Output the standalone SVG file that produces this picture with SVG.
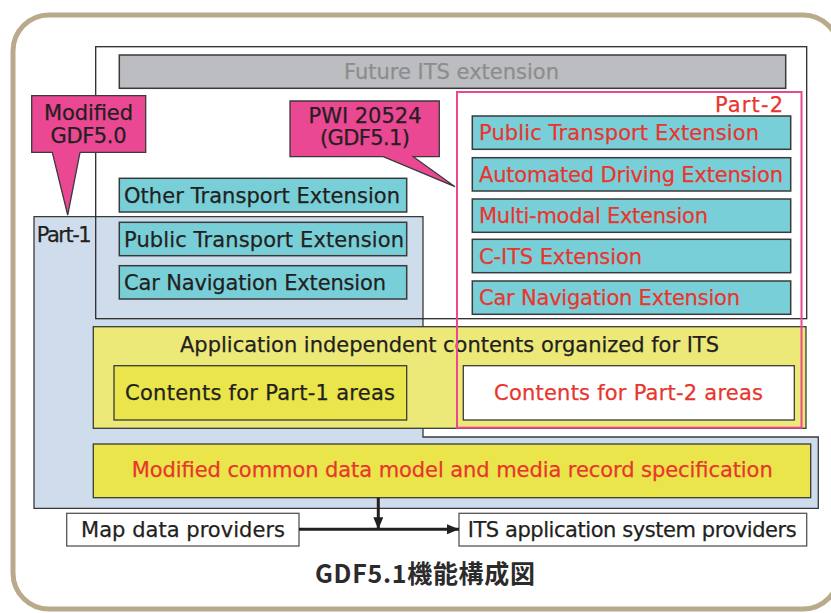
<svg xmlns="http://www.w3.org/2000/svg" width="831" height="613" viewBox="0 0 831 613">
  <defs>
    <marker id="arrowHead" markerUnits="userSpaceOnUse" markerWidth="12" markerHeight="10" refX="12" refY="5" orient="auto">
      <path d="M0,0 L12,5 L0,10 Z" fill="#231f20"/>
    </marker>
  </defs>
  <style>
    text { font-family: "DejaVu Sans", "Liberation Sans", sans-serif; font-size: 21px; fill: #231f20; stroke: #231f20; stroke-width: 0.25; }
    .red { fill: #e8352e; stroke: #e8352e; }
    .grey { fill: #8c8d8f; stroke: #8c8d8f; }
    .mid { text-anchor: middle; }
    .teal { fill: #79cfd8; stroke: #3a3a3a; stroke-width: 1.5; }
    .yellowLight { fill: #ede978; stroke: #3a3a3a; stroke-width: 1.3; }
    .yellow { fill: #e9e54a; stroke: #3a3a3a; stroke-width: 1.3; }
    .callout { fill: #ea4893; stroke: #3a3a3a; stroke-width: 1.3; }
    .plain { fill: #ffffff; stroke: #555555; stroke-width: 1.3; }
    .title { font-family: "Noto Sans CJK JP", "DejaVu Sans", sans-serif; font-size: 25px; font-weight: 700; fill: #2b2b2b; stroke: none; }
  </style>

  <!-- outer frame -->
  <rect x="13" y="15" width="826" height="594" rx="36" fill="#ffffff" stroke="#b9aa8b" stroke-width="5"/>

  <!-- future / part-2 scope area -->
  <rect id="scopeFill" x="95.7" y="46.7" width="711" height="272" fill="#ffffff" stroke="none"/>

  <!-- Part-1 area -->
  <g id="part1">
    <path d="M34,216.7 H423 V437 H818.3 V508.3 H34 Z" fill="#cfdcec" stroke="#3a3a3a" stroke-width="1.3"/>
    <text x="36.7" y="241.7" textLength="55">Part-1</text>
  </g>

  <rect id="scopeOutline" x="95.7" y="46.7" width="711" height="272" fill="none" stroke="#2b2b2b" stroke-width="1.3"/>

  <g id="future">
    <rect x="119.3" y="55" width="666.4" height="33.3" fill="#bcbdc0" stroke="#3a3a3a" stroke-width="1.5"/>
    <text class="grey" x="344" y="79" textLength="215">Future ITS extension</text>
  </g>

  <!-- Part-1 extensions -->
  <g id="p1Other">
    <rect class="teal" x="119.3" y="178.3" width="287.4" height="33.7"/>
    <text x="124" y="202.5" textLength="276">Other Transport Extension</text>
  </g>
  <g id="p1Public">
    <rect class="teal" x="119.3" y="222.3" width="287.4" height="33.4"/>
    <text x="124" y="246.5" textLength="280">Public Transport Extension</text>
  </g>
  <g id="p1CarNav">
    <rect class="teal" x="119.3" y="265.7" width="287.4" height="33.3"/>
    <text x="124" y="289.5" textLength="262">Car Navigation Extension</text>
  </g>

  <!-- Part-2 extensions -->
  <g id="p2Public">
    <rect class="teal" x="472.3" y="116" width="318.4" height="33.3"/>
    <text class="red" x="479" y="140" textLength="280">Public Transport Extension</text>
  </g>
  <g id="p2Automated">
    <rect class="teal" x="472.3" y="157.7" width="318.4" height="33.3"/>
    <text class="red" x="479" y="181.5" textLength="304">Automated Driving Extension</text>
  </g>
  <g id="p2Multimodal">
    <rect class="teal" x="472.3" y="199" width="318.4" height="33.3"/>
    <text class="red" x="479" y="222.5" textLength="229">Multi-modal Extension</text>
  </g>
  <g id="p2CITS">
    <rect class="teal" x="472.3" y="239.3" width="318.4" height="33.4"/>
    <text class="red" x="479" y="263.5" textLength="163">C-ITS Extension</text>
  </g>
  <g id="p2CarNav">
    <rect class="teal" x="472.3" y="281" width="318.4" height="33.3"/>
    <text class="red" x="479" y="305" textLength="261">Car Navigation Extension</text>
  </g>

  <!-- application independent contents -->
  <g id="appIndependent">
    <rect class="yellowLight" x="93.3" y="326.7" width="712.7" height="101.6"/>
    <text x="180" y="352" textLength="539">Application independent contents organized for ITS</text>
  </g>
  <g id="contentsPart1">
    <rect class="yellow" x="114" y="365.7" width="292.7" height="54.3"/>
    <text x="125" y="400" textLength="270">Contents for Part-1 areas</text>
  </g>
  <g id="contentsPart2">
    <rect x="463.3" y="365.7" width="331" height="54.3" fill="#ffffff" stroke="#3a3a3a" stroke-width="1.3"/>
    <text class="red" x="494" y="400" textLength="269">Contents for Part-2 areas</text>
  </g>

  <!-- Part-2 area -->
  <g id="part2">
    <rect x="457" y="92" width="344.5" height="335.7" fill="none" stroke="#ea4893" stroke-width="2"/>
    <text class="red" x="783" y="111.5" text-anchor="end" textLength="68">Part-2</text>
  </g>

  <g id="commonModel">
    <rect class="yellow" x="93.3" y="444" width="717.4" height="53.7"/>
    <text class="red" x="131.7" y="477" textLength="641">Modified common data model and media record specification</text>
  </g>

  <!-- callouts -->
  <g id="calloutGDF50">
    <path class="callout" d="M31.7,95.7 H145.7 V152.3 H80 L67.7,215 L52.3,152.3 H31.7 Z"/>
    <text class="mid" x="88.5" y="120" textLength="89">Modified</text>
    <text class="mid" x="88.5" y="143.3" textLength="76">GDF5.0</text>
  </g>
  <g id="calloutPWI">
    <path class="callout" d="M290,101 H439.3 V156.7 H413.3 L455,186.7 L383.3,156.7 H290 Z"/>
    <text class="mid" x="365" y="123.3" textLength="113">PWI 20524</text>
    <text class="mid" x="365" y="145" textLength="90">(GDF5.1)</text>
  </g>

  <!-- providers -->
  <g id="mapProviders">
    <rect class="plain" x="66.7" y="513.3" width="232.3" height="32.7"/>
    <text x="81" y="537" textLength="204">Map data providers</text>
  </g>
  <g id="itsProviders">
    <rect class="plain" x="459" y="513.3" width="347.7" height="32.7"/>
    <text x="467.7" y="537" textLength="329">ITS application system providers</text>
  </g>

  <g id="connectors" stroke="#231f20" stroke-width="3" fill="none">
    <line x1="378.3" y1="497.7" x2="378.3" y2="529.3" marker-end="url(#arrowHead)"/>
    <line x1="299" y1="529.3" x2="459" y2="529.3" marker-end="url(#arrowHead)"/>
  </g>

  <text class="title" x="315" y="583" textLength="220">GDF5.1機能構成図</text>
</svg>
